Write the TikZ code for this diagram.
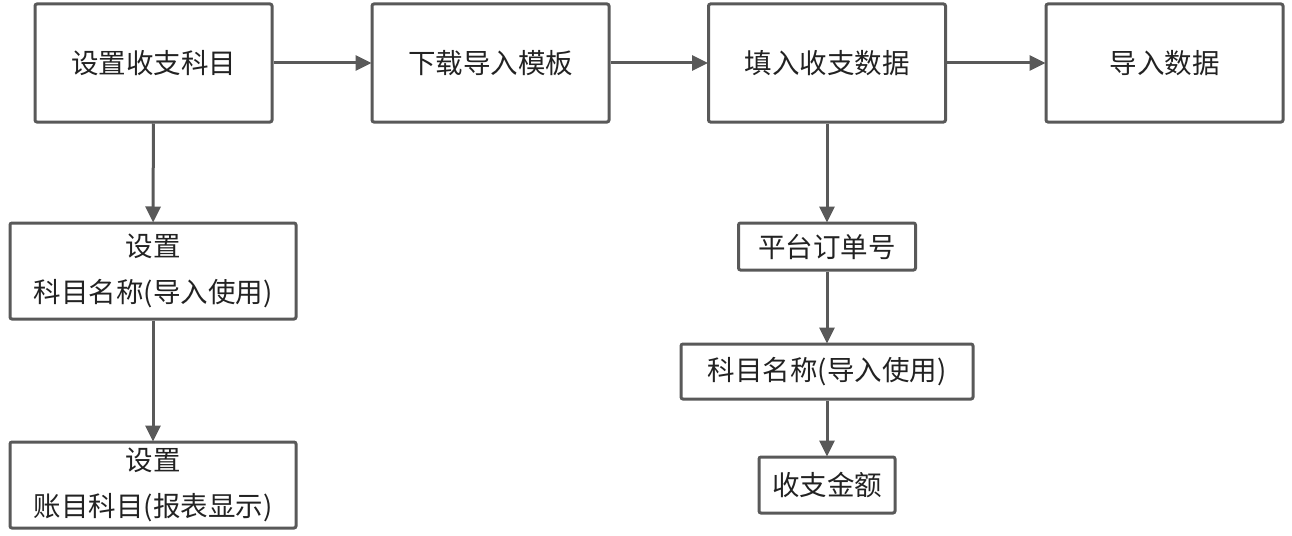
\documentclass[tikz,border=0pt]{standalone}
\usepackage{fontspec}
\setmainfont{Noto Sans CJK SC}
\usetikzlibrary{arrows.meta}
\definecolor{ln}{HTML}{595959}
\definecolor{tx}{HTML}{222222}
\tikzset{
  bx/.style={draw=ln, line width=3pt, rounded corners=2pt, fill=white, text=tx,
    font=\fontsize{27.5}{46}\selectfont, align=center, inner sep=0pt},
  arr/.style={draw=ln, line width=3pt, -{Triangle[length=16pt,width=15pt]}, shorten >=-1pt}
}
\begin{document}
\begin{tikzpicture}[x=1pt,y=-1pt]
\useasboundingbox (0,0) rectangle (1292,535);
\node[bx, minimum width=237pt, minimum height=118pt] (a) at (153.5,63) {设置收支科目};
\node[bx, minimum width=237pt, minimum height=118pt] (b) at (490.5,63) {下载导入模板};
\node[bx, minimum width=237pt, minimum height=118pt] (c) at (827,63) {填入收支数据};
\node[bx, minimum width=237pt, minimum height=118pt] (d) at (1164.5,63) {导入数据};
\node[bx, minimum width=286pt, minimum height=96pt] (e) at (153,271) {设置\\科目名称(导入使用)};
\node[bx, minimum width=286pt, minimum height=86pt] (f) at (153,485) {设置\\账目科目(报表显示)};
\node[bx, minimum width=177pt, minimum height=47pt] (g) at (827,246.5) {平台订单号};
\node[bx, minimum width=292pt, minimum height=55pt] (h) at (827,371.5) {科目名称(导入使用)};
\node[bx, minimum width=136pt, minimum height=56pt] (i) at (827,485) {收支金额};
\draw[arr] (a) -- (b);
\draw[arr] (b) -- (c);
\draw[arr] (c) -- (d);
\draw[arr] (a) -- (e);
\draw[arr] (e) -- (f);
\draw[arr] (c) -- (g);
\draw[arr] (g) -- (h);
\draw[arr] (h) -- (i);
\end{tikzpicture}
\end{document}
